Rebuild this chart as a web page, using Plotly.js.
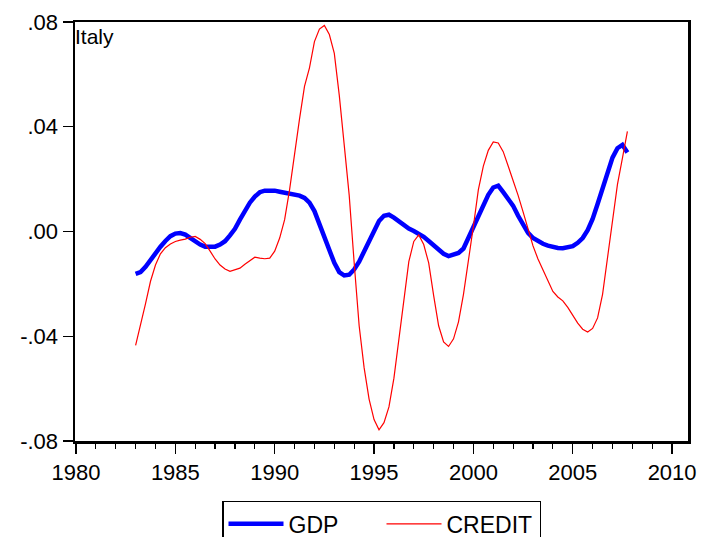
<!DOCTYPE html>
<html>
<head>
<meta charset="utf-8">
<script src="https://cdn.plot.ly/plotly-3.0.1.min.js"></script>
<style>
html, body { margin: 0; padding: 0; background: #fff; }
#chart { width: 715px; height: 537px; }
</style>
</head>
<body>
<div id="chart"></div>
<script>
// Quarterly observations, 1983Q1 .. 2007Q4
const startYear = 1983;
const endYear = 2007;

const gdp = [
  -0.0162, -0.0155, -0.0135, -0.0108,
  -0.0082, -0.0058, -0.0036, -0.0018,
  -0.0008, -0.0006, -0.0012, -0.0025,
  -0.0038, -0.0050, -0.0058, -0.0060,
  -0.0058, -0.0050, -0.0037, -0.0015,
   0.0010,  0.0045,  0.0080,  0.0110,
   0.0133,  0.0150,  0.0156,  0.0157,
   0.0156,  0.0152,  0.0148,  0.0145,
   0.0141,  0.0137,  0.0128,  0.0110,
   0.0078,  0.0028, -0.0020, -0.0075,
  -0.0120, -0.0155, -0.0168, -0.0165,
  -0.0145, -0.0115, -0.0078, -0.0038,
   0.0005,  0.0040,  0.0060,  0.0064,
   0.0053,  0.0038,  0.0023,  0.0011,
   0.0002, -0.0007, -0.0020, -0.0036,
  -0.0052, -0.0069, -0.0085, -0.0094,
  -0.0090, -0.0082, -0.0065, -0.0022,
   0.0012,  0.0058,  0.0105,  0.0140,
   0.0168,  0.0175,  0.0150,  0.0122,
   0.0098,  0.0060,  0.0025, -0.0005,
  -0.0025, -0.0038, -0.0047, -0.0054,
  -0.0059, -0.0063, -0.0064, -0.0062,
  -0.0056, -0.0043, -0.0025,  0.0005,
   0.0048,  0.0105,  0.0165,  0.0228,
   0.0282,  0.0318,  0.0331,  0.0302
];

const credit = [
  -0.0435, -0.0360, -0.0275, -0.0190,
  -0.0128, -0.0085, -0.0062, -0.0048,
  -0.0038, -0.0033, -0.0029, -0.0022,
  -0.0019, -0.0030, -0.0046, -0.0075,
  -0.0105, -0.0128, -0.0143, -0.0152,
  -0.0146, -0.0140, -0.0125, -0.0110,
  -0.0098, -0.0102, -0.0104, -0.0102,
  -0.0075, -0.0025,  0.0045,  0.0160,
   0.0300,  0.0430,  0.0554,  0.0625,
   0.0725,  0.0773,  0.0787,  0.0752,
   0.0680,  0.0520,  0.0330,  0.0138,
  -0.0120, -0.0360, -0.0520, -0.0640,
  -0.0718, -0.0757, -0.0730, -0.0670,
  -0.0560, -0.0410, -0.0250, -0.0115,
  -0.0038, -0.0013, -0.0050, -0.0120,
  -0.0245, -0.0360, -0.0422, -0.0439,
  -0.0410, -0.0345, -0.0240, -0.0118,
   0.0020,  0.0160,  0.0250,  0.0310,
   0.0342,  0.0338,  0.0305,  0.0250,
   0.0198,  0.0138,  0.0075,  0.0010,
  -0.0055, -0.0105, -0.0148, -0.0190,
  -0.0229, -0.0250, -0.0265, -0.0290,
  -0.0320, -0.0350, -0.0373, -0.0384,
  -0.0370, -0.0330, -0.0240, -0.0105,
   0.0050,  0.0180,  0.0280,  0.0382
];

const yTickVals = [-0.08, -0.04, 0.00, 0.04, 0.08];
const yTickText = ["-.08", "-.04", ".00", ".04", ".08"];
const xTickVals = [1980, 1985, 1990, 1995, 2000, 2005, 2010];
const xTickText = ["1980", "1985", "1990", "1995", "2000", "2005", "2010"];
const panelLabel = "Italy";
const seriesNames = ["GDP", "CREDIT"];

const dates = [];
for (let y = startYear; y <= endYear; y++) {
  for (let q = 0; q < 4; q++) dates.push(y + q / 4);
}

const traces = [
  { x: dates, y: gdp, name: seriesNames[0], type: 'scatter', mode: 'lines',
    line: { color: '#0000FF', width: 4.5 } },
  { x: dates, y: credit, name: seriesNames[1], type: 'scatter', mode: 'lines',
    line: { color: '#FF0000', width: 1.2 } }
];

const font = { family: 'Liberation Sans, Arial, sans-serif', color: '#000' };

const layout = {
  width: 715, height: 537,
  margin: { l: 75, r: 27, t: 22, b: 96, autoexpand: false },
  paper_bgcolor: '#fff', plot_bgcolor: '#fff',
  font: Object.assign({ size: 21 }, font),
  showlegend: true,
  legend: {
    orientation: 'h', x: 0.5, xanchor: 'center', y: -0.143, yanchor: 'top',
    bordercolor: '#000', borderwidth: 1.5, bgcolor: '#fff',
    font: Object.assign({ size: 23 }, font),
    itemwidth: 55, tracegroupgap: 0,
    entrywidth: 88, entrywidthmode: 'pixels'
  },
  xaxis: {
    range: [1979.95, 2010.8],
    tickmode: 'array', tickvals: xTickVals, ticktext: xTickText,
    ticks: 'outside', ticklen: 10, tickwidth: 1.2, tickcolor: '#000',
    minor: { dtick: 1, tick0: 1980, ticks: 'outside', ticklen: 5, tickwidth: 1.2, tickcolor: '#000' },
    showline: true, linecolor: '#000', linewidth: 2.5, mirror: true,
    showgrid: false, zeroline: false,
    tickfont: Object.assign({ size: 22 }, font),
    ticklabelstandoff: 0
  },
  yaxis: {
    range: [-0.08, 0.08],
    tickmode: 'array', tickvals: yTickVals, ticktext: yTickText,
    ticks: 'outside', ticklen: 10, tickwidth: 1.2, tickcolor: '#000',
    showline: true, linecolor: '#000', linewidth: 2.5, mirror: true,
    showgrid: false, zeroline: false,
    tickfont: Object.assign({ size: 22 }, font)
  },
  annotations: [{
    text: panelLabel, xref: 'paper', yref: 'paper', x: 0, y: 1,
    xanchor: 'left', yanchor: 'top', xshift: -2, yshift: -1, showarrow: false,
    font: Object.assign({ size: 21 }, font)
  }]
};

Plotly.newPlot('chart', traces, layout, { staticPlot: true, displayModeBar: false });
</script>
</body>
</html>
